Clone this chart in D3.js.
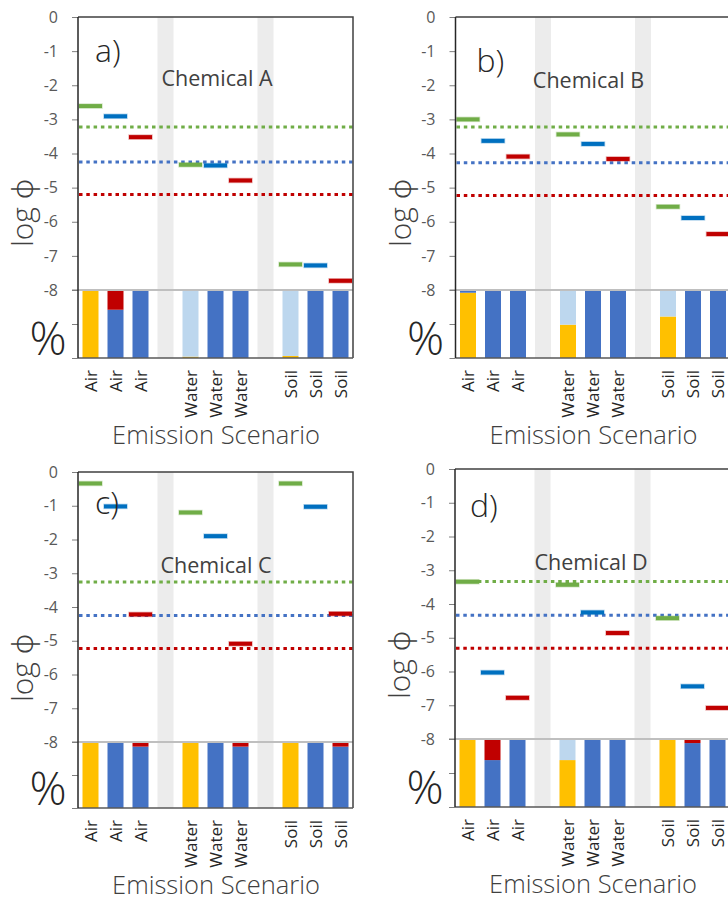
<!DOCTYPE html>
<html>
<head>
  <meta charset="utf8" />
  <style>
    body { margin: 0; background: #fff; }
    text { font-family: "Open Sans", "Noto Sans", sans-serif; }
    .tick text { font-size: 16px; fill: #595959; }
    .tick line { stroke: #7f7f7f; }
  </style>
</head>
<body>
  <script src="https://d3js.org/d3.v7.min.js"></script>
  <script>
    // ---- data ----
    var panelTags = ["a)", "b)", "c)", "d)"];
    var chemicals = ["Chemical A", "Chemical B", "Chemical C", "Chemical D"];
    var slotLabels = ["Air", "Air", "Air", "", "Water", "Water", "Water", "", "Soil", "Soil", "Soil"];
    var gapSlots = [3, 7];
    var yTicks = [0, -1, -2, -3, -4, -5, -6, -7, -8];

    // log phi per emission medium (Air, Water, Soil)
    var greenLogPhi = [[-2.61, -4.33, -7.25], [-3.0, -3.44, -5.56], [-0.34, -1.2, -0.34], [-3.34, -3.43, -4.42]];
    var blueLogPhi  = [[-2.91, -4.35, -7.28], [-3.63, -3.72, -5.89], [-1.02, -1.9, -1.03], [-6.03, -4.25, -6.44]];
    var redLogPhi   = [[-3.52, -4.79, -7.73], [-4.09, -4.16, -6.36], [-4.22, -5.09, -4.2], [-6.78, -4.86, -7.08]];

    // dotted reference levels
    var greenLevel = [-3.22, -3.22, -3.26, -3.33];
    var blueLevel  = [-4.25, -4.27, -4.25, -4.33];
    var redLevel   = [-5.2, -5.23, -5.23, -5.31];

    // % shares for the nine scenarios, stacked bottom to top
    var yellowPct = [
      [100, 0, 0, 2, 0, 0, 3, 0, 0],
      [96, 0, 0, 49, 0, 0, 61, 0, 0],
      [100, 0, 0, 100, 0, 0, 100, 0, 0],
      [100, 0, 0, 69, 0, 0, 100, 0, 0]
    ];
    var lightBluePct = [
      [0, 0, 0, 98, 0, 0, 97, 0, 0],
      [0, 0, 0, 51, 0, 0, 39, 0, 0],
      [0, 0, 0, 0, 0, 0, 0, 0, 0],
      [0, 0, 0, 31, 0, 0, 0, 0, 0]
    ];
    var bluePct = [
      [0, 71, 100, 0, 100, 100, 0, 100, 100],
      [4, 98.5, 100, 0, 100, 100, 0, 100, 100],
      [0, 100, 93, 0, 100, 93, 0, 100, 93],
      [0, 69, 100, 0, 100, 100, 0, 94, 100]
    ];
    var redPct = [
      [0, 29, 0, 0, 0, 0, 0, 0, 0],
      [0, 1.5, 0, 0, 0, 0, 0, 0, 0],
      [0, 0, 7, 0, 0, 7, 0, 0, 7],
      [0, 31, 0, 0, 0, 0, 0, 6, 0]
    ];

    // ---- layout ----
    var layout = [
      {ax: 78,    top: 17,  logH: 273, pctH: 68, tag: [17, 45], title: [139, 69]},
      {ax: 455.5, top: 17,  logH: 273, pctH: 68, tag: [21, 55], title: [133, 71]},
      {ax: 78,    top: 472, logH: 270, pctH: 66, tag: [17, 42], title: [138, 101]},
      {ax: 455,   top: 469, logH: 270, pctH: 68, tag: [15, 48], title: [136, 101]}
    ];
    var plotW = 275;
    var pctColors = ["#FFC000", "#BDD7EE", "#4472C4", "#C00000"];
    var markerColors = ["#70AD47", "#0070C0", "#C00000"];
    var levelColors = ["#70AD47", "#4472C4", "#C00000"];

    var svg = d3.select("body").append("svg").attr("width", 728).attr("height", 901);

    layout.forEach(function(L, p) {
      var g = svg.append("g");
      var logBottom = L.top + L.logH,
          pctBottom = logBottom + L.pctH;

      var x = d3.scaleBand().domain(d3.range(slotLabels.length))
          .range([L.ax, L.ax + plotW]).paddingInner(0.36).paddingOuter(0.18);
      var y = d3.scaleLinear().domain([0, -8]).range([L.top, logBottom]);
      var pct = d3.scaleLinear().domain([0, 100]).range([pctBottom, logBottom]);

      // gray separator bands
      g.selectAll(".gap").data(gapSlots).enter().append("rect")
          .attr("x", function(d) { return x(d); })
          .attr("width", x.bandwidth())
          .attr("y", L.top)
          .attr("height", pctBottom - L.top)
          .attr("fill", "#ececec");

      // stacked % bars
      var barSlots = d3.range(slotLabels.length).filter(function(i) { return gapSlots.indexOf(i) < 0; });
      var rows = barSlots.map(function(s, i) {
        return {slot: s, yellow: yellowPct[p][i], light: lightBluePct[p][i], blue: bluePct[p][i], red: redPct[p][i]};
      });
      var stack = d3.stack().keys(["yellow", "light", "blue", "red"])(rows);
      g.selectAll(".layer").data(stack).enter().append("g")
          .attr("fill", function(d, i) { return pctColors[i]; })
        .selectAll("rect").data(function(d) { return d; }).enter().append("rect")
          .attr("x", function(d) { return x(d.data.slot); })
          .attr("width", x.bandwidth())
          .attr("y", function(d) { return pct(d[1]); })
          .attr("height", function(d) { return pct(d[0]) - pct(d[1]); });

      // -8 separator line
      g.append("line")
          .attr("x1", L.ax - 6).attr("x2", L.ax + plotW)
          .attr("y1", logBottom).attr("y2", logBottom)
          .attr("stroke", "#bfbfbf").attr("stroke-width", 2);

      // dotted reference levels
      [greenLevel, blueLevel, redLevel].forEach(function(lv, k) {
        g.append("line")
            .attr("x1", L.ax + 1).attr("x2", L.ax + plotW)
            .attr("y1", y(lv[p])).attr("y2", y(lv[p]))
            .attr("stroke", levelColors[k]).attr("stroke-width", 3)
            .attr("stroke-dasharray", "3.5,3.8");
      });

      // log phi dash markers: green/blue/red at 1st/2nd/3rd slot of each group
      var groupStart = [0, 4, 8];
      [greenLogPhi, blueLogPhi, redLogPhi].forEach(function(series, k) {
        g.selectAll(".m" + k).data(series[p]).enter().append("rect")
            .attr("x", function(d, j) { return x(groupStart[j] + k) + x.bandwidth() / 2 - 11.5; })
            .attr("width", 23)
            .attr("y", function(d) { return y(d) - 2; })
            .attr("height", 4)
            .attr("fill", markerColors[k])
            .attr("stroke", markerColors[k]).attr("stroke-opacity", 0.3).attr("stroke-width", 1.5);
      });

      // frame: top, right, bottom
      g.append("path")
          .attr("d", "M" + L.ax + "," + L.top + "H" + (L.ax + plotW) + "V" + pctBottom)
          .attr("fill", "none").attr("stroke", "#404040").attr("stroke-width", 1.5);
      g.append("line")
          .attr("x1", L.ax).attr("x2", L.ax + plotW)
          .attr("y1", pctBottom).attr("y2", pctBottom)
          .attr("stroke", "#595959").attr("stroke-width", 1.5);

      // axes
      g.append("g").attr("transform", "translate(" + L.ax + ",0)")
          .call(d3.axisLeft(y).tickValues(yTicks).tickSize(6).tickPadding(14))
          .call(function(a) { a.select(".domain").remove(); a.selectAll("text").text(function(d) { return d === 0 ? "0" : "-" + Math.abs(d); }); });
      g.append("g").attr("transform", "translate(" + L.ax + ",0)")
          .call(d3.axisLeft(pct).tickValues([0, 50]).tickSize(6).tickFormat(""))
          .call(function(a) { a.select(".domain").remove(); });
      g.append("line")
          .attr("x1", L.ax).attr("x2", L.ax)
          .attr("y1", L.top).attr("y2", pctBottom)
          .attr("stroke", "#262626").attr("stroke-width", 1.5);

      // category labels
      g.selectAll(".cat").data(slotLabels.map(function(d, i) { return {t: d, i: i}; }).filter(function(d) { return d.t; }))
        .enter().append("text")
          .attr("transform", function(d) { return "translate(" + (x(d.i) + x.bandwidth() / 2) + "," + (pctBottom + 12) + ") rotate(-90)"; })
          .attr("dy", "0.36em")
          .attr("text-anchor", "end")
          .attr("font-size", 17)
          .attr("fill", "#262626")
          .text(function(d) { return d.t; });

      // texts
      g.append("text")
          .attr("x", L.ax + L.tag[0]).attr("y", L.top + L.tag[1])
          .attr("font-size", 32).attr("font-weight", 300).attr("fill", "#262626")
          .text(panelTags[p]);
      g.append("text")
          .attr("x", L.ax + L.title[0]).attr("y", L.top + L.title[1])
          .attr("text-anchor", "middle")
          .attr("font-size", 21.5).attr("fill", "#404040")
          .text(chemicals[p]);
      g.append("text")
          .attr("transform", "translate(" + (L.ax - 45) + "," + (L.top + 196) + ") rotate(-90)")
          .attr("text-anchor", "middle")
          .attr("font-size", 30).attr("font-weight", 300).attr("fill", "#404040")
          .text("log \u03D5");
      g.append("text")
          .attr("x", L.ax - 30).attr("y", pctBottom - 3)
          .attr("text-anchor", "middle")
          .attr("font-size", 46).attr("font-weight", 300).attr("fill", "#262626")
          .text("%");
      g.append("text")
          .attr("x", L.ax + 138).attr("y", pctBottom + 86)
          .attr("text-anchor", "middle")
          .attr("font-size", 25.5).attr("font-weight", 300).attr("fill", "#404040")
          .text("Emission Scenario");
    });
  </script>
</body>
</html>
